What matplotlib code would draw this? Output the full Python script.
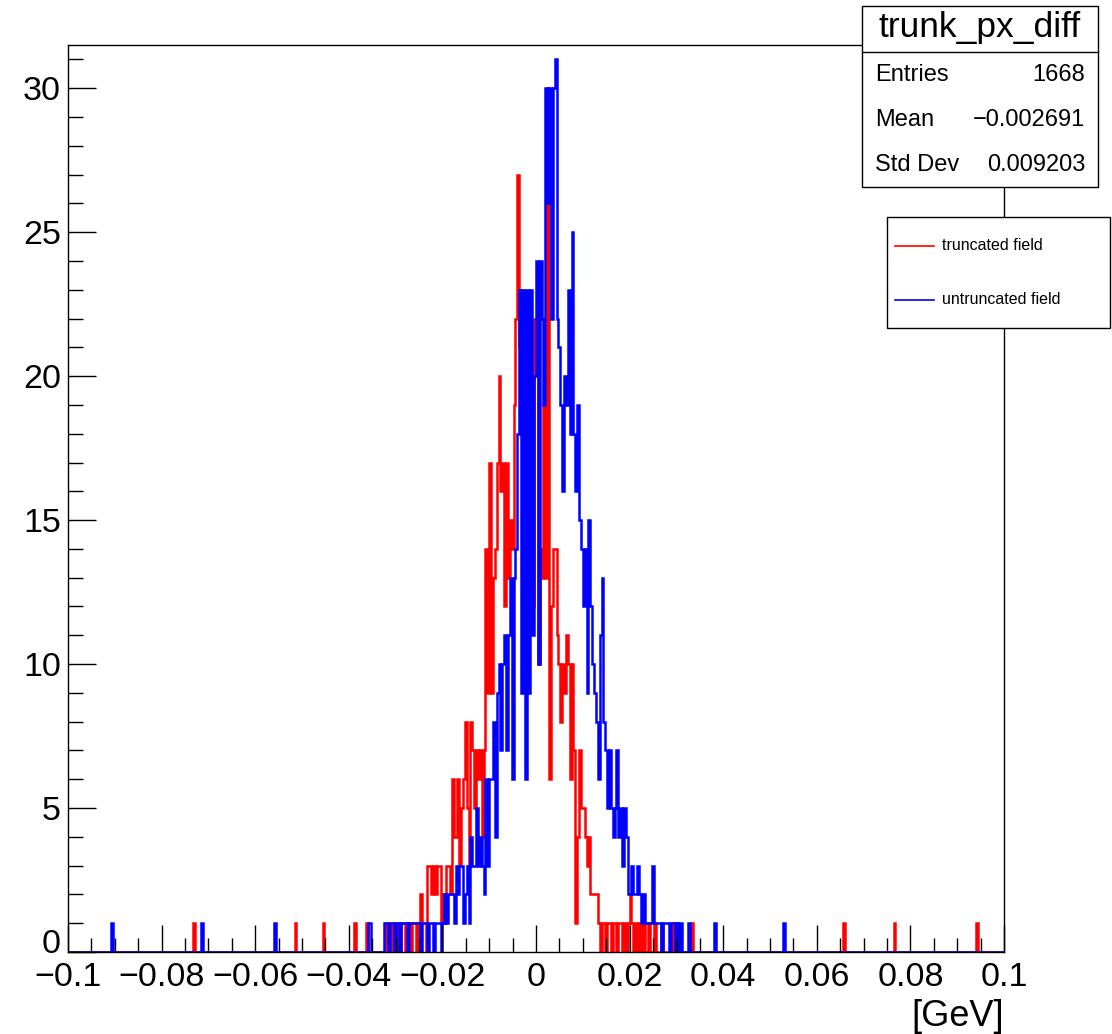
import numpy as np
import matplotlib
matplotlib.use("Agg")
import matplotlib.pyplot as plt
import matplotlib.transforms as mtransforms
from matplotlib.patches import Rectangle
from matplotlib.lines import Line2D
from matplotlib.ticker import MultipleLocator

plt.rcParams["font.family"] = ["Liberation Sans", "DejaVu Sans"]

# histogram binning (500 bins on [-0.1, 0.1])
n_bins = 500
x_min, x_max = -0.1, 0.1

# counts of the dense core, starting at bin 168
core_start = 168
red_core = [
    0, 0, 1, 0, 0, 1, 0,
    0, 1, 0, 1, 1,
    0, 1, 1, 0, 1,
    1, 0, 1, 2, 1,
    1, 0, 3, 3, 2,
    3, 2, 3, 3, 1,
    2, 1, 3, 3, 2,
    6, 4, 4, 6, 3,
    5, 6, 8, 5, 3,
    8, 7, 5, 7, 6,
    7, 4, 7, 14, 9,
    17, 9, 13, 14, 17,
    20, 16, 17, 12, 17,
    13, 15, 14, 19, 22,
    27, 21, 23, 17, 21,
    21, 15, 18, 12, 22,
    22, 10, 14, 13, 19,
    13, 30, 6, 12, 14,
    14, 11, 10, 8, 10,
    9, 11, 10, 6, 10,
    7, 1, 4, 7, 5,
    5, 4, 3, 4, 2,
    2, 2, 2, 1, 0,
    1, 1, 0, 1, 1,
    0, 1, 1, 0, 1,
    1, 0, 1, 0, 1,
    2, 1, 0, 1, 0,
    1, 0, 1, 0, 0,
    1, 0, 0, 1, 0,
    0, 0, 1, 0, 0,
    0, 0, 0, 1, 0,
    1, 0, 0, 0, 0, 0,
]
blue_core = [
    0, 1, 1, 0, 1, 1, 0,
    1, 1, 0, 1, 1,
    1, 0, 1, 1, 1,
    1, 1, 1, 0, 1,
    1, 1, 0, 1, 1,
    0, 1, 1, 1, 0,
    1, 2, 1, 2, 2,
    2, 1, 3, 2, 3,
    3, 1, 2, 3, 1,
    4, 3, 3, 5, 3,
    4, 3, 2, 6, 3,
    6, 6, 8, 4, 9,
    10, 7, 10, 11, 7,
    11, 13, 6, 13, 14,
    18, 23, 9, 23, 6,
    23, 9, 23, 11, 20,
    24, 10, 24, 22, 19,
    30, 26, 30, 22, 30,
    31, 22, 21, 19, 16,
    20, 19, 23, 18, 25,
    18, 16, 19, 15, 14,
    12, 14, 9, 15, 12,
    10, 9, 8, 6, 11,
    13, 8, 7, 5, 7,
    5, 4, 5, 7, 4,
    5, 3, 5, 4, 2,
    2, 3, 2, 2, 3,
    2, 1, 2, 1, 1,
    1, 1, 3, 1, 1,
    1, 1, 0, 1, 1,
    1, 0, 1, 1, 0,
    1, 0, 1, 0, 0,
    0, 1, 0, 0, 0, 0,
]

# isolated single entries in the tails (bin index)
red_tail_bins = [67, 121, 136, 153, 159, 333, 414, 441, 485]
blue_tail_bins = [23, 71, 110, 160, 161, 345, 382]

y_ticks = [0, 5, 10, 15, 20, 25, 30]
x_ticks = [-0.1, -0.08, -0.06, -0.04, -0.02, 0, 0.02, 0.04, 0.06, 0.08, 0.1]

stats_title = "trunk_px_diff"
stats_rows = [("Entries", "1668"), ("Mean", "\u22120.002691"), ("Std Dev", "0.009203")]
legend_labels = ["truncated field", "untruncated field"]


def fill_counts(core, tails):
    counts = np.zeros(n_bins)
    counts[core_start:core_start + len(core)] = core
    for b in tails:
        counts[b] = 1
    return counts


edges = np.linspace(x_min, x_max, n_bins + 1)
red = fill_counts(red_core, red_tail_bins)
blue = fill_counts(blue_core, blue_tail_bins)

W, H = 1112, 1034
fig = plt.figure(figsize=(W / 100, H / 100), dpi=100)
fig.patch.set_facecolor("white")

# frame: left 68, right 1004, top 45, bottom 952 (pixels)
ax = fig.add_axes([68 / W, (H - 952) / H, 936 / W, 907 / H])
ax.stairs(red, edges, color="#ff0000", lw=1.8, baseline=None)
ax.stairs(blue, edges, color="#0000ff", lw=1.8, baseline=None)

ax.set_xlim(x_min, x_max)
ax.set_ylim(0, 31.5)
ax.set_xticks(x_ticks)
ax.set_xticklabels([("%g" % t).replace("-", "\u2212") for t in x_ticks])
ax.set_yticks(y_ticks)
ax.xaxis.set_minor_locator(MultipleLocator(0.005))
ax.yaxis.set_minor_locator(MultipleLocator(1))
ax.tick_params(which="both", direction="in", top=False, right=False, width=1, labelsize=24.5)
ax.tick_params(axis="x", which="major", length=19.5, pad=7)
ax.tick_params(axis="x", which="minor", length=10)
ax.tick_params(axis="y", which="major", length=20, pad=5)
ax.tick_params(axis="y", which="minor", length=11)
for s in ax.spines.values():
    s.set_linewidth(1)

# lift the "0" on the y axis a little so it clears the "-0.1" below it
zero_lab = ax.get_yticklabels()[0]
zero_lab.set_transform(zero_lab.get_transform() +
                       mtransforms.ScaledTranslation(0, 11 / 100, fig.dpi_scale_trans))

fig.text(1004 / W, 1 - 1017 / H, "[GeV]", fontsize=26, ha="right", va="center")


def fig_rect(x0, y0, x1, y1):
    return Rectangle((x0 / W, 1 - y1 / H), (x1 - x0) / W, (y1 - y0) / H,
                     transform=fig.transFigure, fc="white", ec="black", lw=1, zorder=10)


# stats box
fig.add_artist(fig_rect(862, 6, 1098, 187))
fig.add_artist(Line2D([862 / W, 1098 / W], [1 - 52 / H, 1 - 52 / H],
                      transform=fig.transFigure, color="black", lw=1, zorder=11))
fig.text(980 / W, 1 - 28 / H, stats_title, fontsize=25.5, ha="center", va="center", zorder=12)
for k, (name, val) in enumerate(stats_rows):
    yy = 1 - (75 + k * 45) / H
    fig.text(875 / W, yy, name, fontsize=17, ha="left", va="center", zorder=12)
    fig.text(1085 / W, yy, val, fontsize=17, ha="right", va="center", zorder=12)

# legend box
fig.add_artist(fig_rect(887, 217, 1110, 328))
for k, (lab, col) in enumerate(zip(legend_labels, ["#ff0000", "#0000ff"])):
    yy = 1 - (246 + k * 54) / H
    fig.add_artist(Line2D([895 / W, 934 / W], [yy, yy], transform=fig.transFigure,
                          color=col, lw=1.2, zorder=12))
    fig.text(942 / W, yy, lab, fontsize=11.5, ha="left", va="center", zorder=12)

fig.savefig("out.png", dpi=100, facecolor="white")
